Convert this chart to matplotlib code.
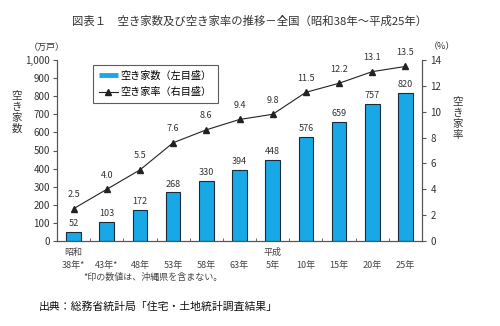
import matplotlib
matplotlib.use("Agg")
import matplotlib.pyplot as plt
from matplotlib.lines import Line2D
import numpy as np

plt.rcParams['font.family'] = ['Noto Sans CJK JP', 'DejaVu Sans']

categories = ["昭和\n38年*", "43年*", "48年", "53年", "58年", "63年", "平成\n5年", "10年", "15年", "20年", "25年"]
vacant_houses = [52, 103, 172, 268, 330, 394, 448, 576, 659, 757, 820]
vacancy_rate = [2.5, 4.0, 5.5, 7.6, 8.6, 9.4, 9.8, 11.5, 12.2, 13.1, 13.5]
left_ticks = list(range(0, 1001, 100))
right_ticks = list(range(0, 15, 2))

W, H = 500, 326
fig = plt.figure(figsize=(5.0, 3.26), dpi=100)
ax = fig.add_axes([57 / W, 1 - 241 / H, 365 / W, 181 / H])
ax2 = ax.twinx()

def px(xp, yp):
    return xp / W, 1 - yp / H

x = np.arange(len(categories))
ax.bar(x, vacant_houses, width=0.44, color="#18a8e6", edgecolor="#1a2a3a", linewidth=0.8, zorder=2)
for xi, v in zip(x, vacant_houses):
    ax.text(xi, v + 22, f"{v}", ha="center", va="bottom", fontsize=6.5, color="#333333")

ax2.plot(x, vacancy_rate, color="#222222", linewidth=0.8, marker="^", markersize=5, zorder=3)
for xi, v in zip(x, vacancy_rate):
    ax2.text(xi, v + 0.75, f"{v:.1f}", ha="center", va="bottom", fontsize=6.5, color="#333333")

ax.set_xlim(-0.5, len(categories) - 0.5)
ax.set_ylim(0, 1000)
ax2.set_ylim(0, 14)
ax.set_yticks(left_ticks)
ax.set_yticklabels([f"{t:,}" for t in left_ticks])
ax2.set_yticks(right_ticks)

ax.set_xticks(x)
ax.set_xticklabels([c if "\n" in c else "\n" + c for c in categories], fontsize=6.5, color="#444444", linespacing=1.55)
ax.set_xticks(np.arange(-0.5, len(categories), 1), minor=True)
ax.tick_params(axis="x", which="major", length=0, pad=5)
ax.tick_params(axis="x", which="minor", length=2, direction="in", color="#555555")
ax.tick_params(axis="y", labelsize=7, length=3, color="#555555", labelcolor="#333333", pad=2)
ax2.tick_params(axis="y", labelsize=7, length=3, color="#555555", labelcolor="#333333", pad=3)

for a in (ax, ax2):
    a.spines["top"].set_visible(False)
    for s in ("left", "right", "bottom"):
        a.spines[s].set_color("#555555")
        a.spines[s].set_linewidth(0.8)

handles = [Line2D([0], [0], color="#18a8e6", linewidth=3.5, solid_capstyle="butt"),
           Line2D([0], [0], color="#222222", linewidth=0.8, marker="^", markersize=5)]
leg = ax.legend(handles, ["空き家数（左目盛）", "空き家率（右目盛）"], loc="upper left",
                bbox_to_anchor=((93 - 57) / 365, (241 - 65) / 181), fontsize=7.3, frameon=True, fancybox=False,
                edgecolor="#333333", handlelength=1.9, handletextpad=0.3, borderpad=0.55,
                labelspacing=0.65, borderaxespad=0)
leg.get_frame().set_linewidth(0.8)

fig.text(*px(250, 21), "図表１　空き家数及び空き家率の推移－全国（昭和38年～平成25年）",
         ha="center", va="center", fontsize=8.2, color="#333333")
fig.text(*px(47, 47), "（万戸）", ha="center", va="center", fontsize=6.5, color="#333333")
fig.text(*px(442, 47), "（%）", ha="center", va="center", fontsize=6.5, color="#333333")
for i, ch in enumerate("空き家数"):
    fig.text(*px(17, 96 + i * 11), ch, ha="center", va="center", fontsize=7.5, color="#333333")
for i, ch in enumerate("空き家率"):
    fig.text(*px(458, 102 + i * 11), ch, ha="center", va="center", fontsize=7.5, color="#333333")
fig.text(*px(83, 277), "*印の数値は、沖縄県を含まない。", ha="left", va="center", fontsize=6.5, color="#444444")
fig.text(*px(39, 307), "出典：総務省統計局「住宅・土地統計調査結果」", ha="left", va="center", fontsize=7.8, color="#111111")

fig.savefig("out.png", dpi=100)
